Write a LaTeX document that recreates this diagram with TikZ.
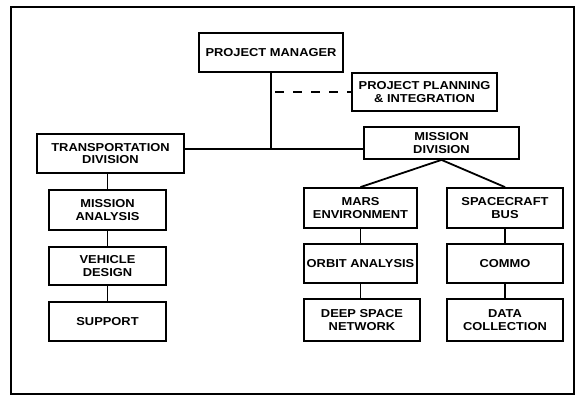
\documentclass[tikz,border=0pt]{standalone}
\usepackage{fontspec}
\setmainfont{Liberation Sans}[FakeStretch=1.12]
\begin{document}
\begin{tikzpicture}[x=1pt,y=-1pt,
  box/.style={draw=black,line width=1.8pt,rectangle,inner sep=0pt,align=center,
    font=\fontsize{11.5}{12.5}\selectfont\bfseries},
  link/.style={draw=black,line width=1.8pt},
  dlink/.style={draw=black,line width=1.8pt,dash pattern=on 9pt off 9pt}]
\useasboundingbox (0,0) rectangle (576,398);
\draw[line width=2pt] (11,7) rectangle (574,394);
\node[box,minimum width=144,minimum height=39] (pm) at (271,52.5) {PROJECT MANAGER};
\node[box,minimum width=145,minimum height=38] (ppi) at (424.5,92) {PROJECT PLANNING\\\& INTEGRATION};
\node[box,minimum width=147,minimum height=39] (tr) at (110.5,153.5) {TRANSPORTATION\\DIVISION};
\node[box,minimum width=155,minimum height=32] (mi) at (441.5,143) {MISSION\\DIVISION};
\node[box,minimum width=117,minimum height=40] (ma) at (107.5,210) {MISSION\\ANALYSIS};
\node[box,minimum width=117,minimum height=38] (vd) at (107.5,266) {VEHICLE\\DESIGN};
\node[box,minimum width=117,minimum height=39] (su) at (107.5,321.5) {SUPPORT};
\node[box,minimum width=113,minimum height=40] (me) at (360.5,208) {MARS\\ENVIRONMENT};
\node[box,minimum width=113,minimum height=39] (oa) at (360.5,263.5) {ORBIT ANALYSIS};
\node[box,minimum width=116,minimum height=42] (dsn) at (362,320) {DEEP SPACE\\NETWORK};
\node[box,minimum width=116,minimum height=40] (sb) at (505,208) {SPACECRAFT\\BUS};
\node[box,minimum width=116,minimum height=39] (co) at (505,263.5) {COMMO};
\node[box,minimum width=116,minimum height=42] (dc) at (505,320) {DATA\\COLLECTION};
\coordinate (hub) at (271,149);
\draw[link] (pm.south) -- (hub);
\draw[link] (tr.east |- hub) -- (mi.west |- hub);
\draw[dlink,shorten <=4pt] (pm.south |- ppi.west) -- (ppi.west);
\draw[link] (ma.north |- tr.south) -- (ma.north);
\draw[link] (ma.south) -- (vd.north);
\draw[link] (vd.south) -- (su.north);
\draw[link] (mi.south) -- (me.north);
\draw[link] (mi.south) -- (sb.north);
\draw[link] (me.south) -- (oa.north);
\draw[link] (oa.south) -- (oa.south |- dsn.north);
\draw[link] (sb.south) -- (co.north);
\draw[link] (co.south) -- (dc.north);
\end{tikzpicture}
\end{document}
